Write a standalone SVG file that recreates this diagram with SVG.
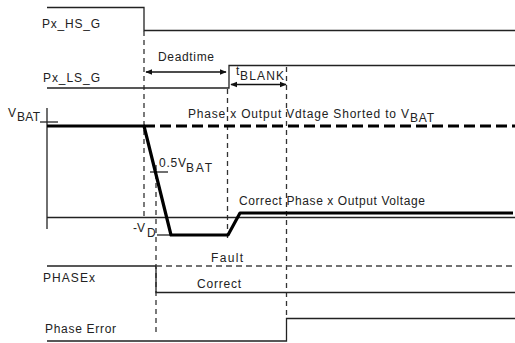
<svg xmlns="http://www.w3.org/2000/svg" width="515" height="343" viewBox="0 0 515 343">
<defs>
<style>
text{font-family:"Liberation Sans",Arial,sans-serif;font-size:12px;fill:#222}
.thin{fill:none;stroke:#222;stroke-width:1.3}
.grid{fill:none;stroke:#333;stroke-width:1.3;stroke-dasharray:5,4}
.thick{fill:none;stroke:#000;stroke-width:3.2;stroke-linejoin:round}
.thickd{fill:none;stroke:#000;stroke-width:3.2;stroke-dasharray:11,5}
.fault{fill:none;stroke:#444;stroke-width:1.3;stroke-dasharray:6,4}
.arr{fill:none;stroke:#111;stroke-width:1.3;marker-start:url(#ah);marker-end:url(#ah)}
</style>
<marker id="ah" viewBox="0 0 10 10" refX="9" refY="5" markerWidth="7" markerHeight="7" orient="auto-start-reverse" markerUnits="userSpaceOnUse">
<path d="M0,1 L10,5 L0,9 Z" fill="#111"/>
</marker>
</defs>
<rect width="515" height="343" fill="#fff"/>

<g id="connectors">
<path class="grid" d="M144,31 V220"/>
<path class="grid" d="M227.5,89 V242"/>
<path class="grid" d="M286.5,67 V318"/>
<path class="grid" d="M156,165 V336"/>
<path class="arr" d="M146,72 H226"/>
<path class="arr" d="M231,84.5 H286"/>
</g>

<g id="hs_g">
<path class="thin" d="M47,7.5 H144 V30.5 H515"/>
<text x="42" y="28" textLength="58">Px_HS_G</text>
</g>

<g id="ls_g">
<path class="thin" d="M47,88 H229 V65.5 H515"/>
<text x="43" y="82" textLength="57">Px_LS_G</text>
</g>

<g id="deadtime">
<text x="158" y="61" textLength="56">Deadtime</text>
</g>

<g id="tblank">
<text x="236" y="75" font-size="10">t</text>
<text x="240" y="80" textLength="44">BLANK</text>
</g>

<g id="phase_output">
<path class="thin" d="M47,108 V229"/>
<path class="thin" d="M40,122 H58"/>
<path class="thin" d="M47,217.5 H515" stroke="#444"/>
<path class="thin" d="M150,172 H168"/>
<path class="thin" d="M157,235 H170"/>
<path class="thickd" d="M144,126 H515"/>
<path class="thick" d="M47,126 H144 L171,235 H228 L240,213 H513"/>
<text x="8" y="117">V</text>
<text x="17" y="121" textLength="23">BAT</text>
<text x="188" y="118" textLength="221">Phase x Output Vdtage Shorted to V</text>
<text x="410" y="122" textLength="24">BAT</text>
<text x="159" y="167" textLength="27">0.5V</text>
<text x="186" y="172" textLength="26">BAT</text>
<text x="239" y="205" textLength="186">Correct Phase x Output Voltage</text>
<text x="133" y="232">-V</text>
<text x="147" y="237">D</text>
</g>

<g id="phasex">
<path class="thin" d="M47,266 H156 V292.5 H515"/>
<path class="fault" d="M156,266 H515"/>
<text x="43" y="282" textLength="52">PHASEx</text>
<text x="211" y="262" textLength="32">Fault</text>
<text x="197" y="288" textLength="44">Correct</text>
</g>

<g id="phase_error">
<path class="thin" d="M47,341 H286.5 V318.5 H515"/>
<text x="45" y="333" textLength="71">Phase Error</text>
</g>
</svg>
